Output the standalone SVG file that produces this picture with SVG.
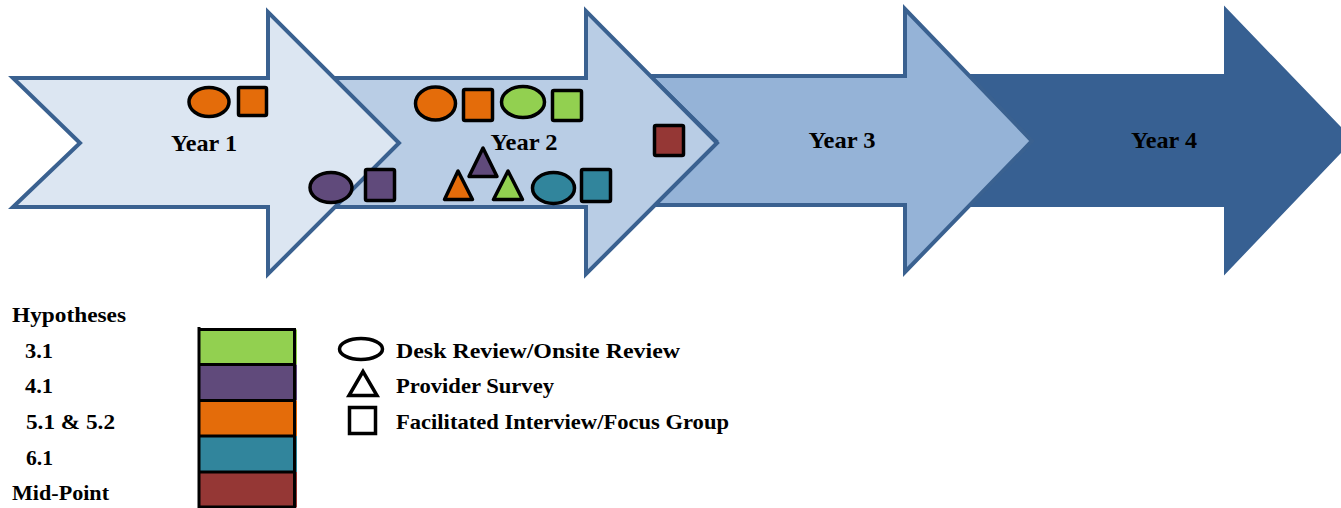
<svg xmlns="http://www.w3.org/2000/svg" width="1341" height="508" viewBox="0 0 1341 508">
<style>
.arrow{stroke:#3A6190;stroke-width:4;stroke-linejoin:miter}
.yr{font-family:"Liberation Serif","Times New Roman",serif;font-weight:bold;font-size:23px;fill:#000;text-anchor:middle}
.lg{font-family:"Liberation Serif","Times New Roman",serif;font-weight:bold;font-size:21px;fill:#000}
.mk{stroke:#000;stroke-width:3.5;stroke-linejoin:round}
.lk{fill:#fff;stroke:#000;stroke-width:3.5;stroke-linejoin:miter}
.sep{stroke:#000;stroke-width:3}
</style>
<g id="year4">
<polygon points="960,75 1225,75 1225,8 1352,140 1225,273 1225,206 960,206 1020,140" fill="#376092" stroke="#376092" stroke-width="2"/>
<text class="yr" x="1164" y="148" textLength="66" lengthAdjust="spacingAndGlyphs">Year 4</text>
</g>
<g id="year3">
<polygon class="arrow" points="650,76 905,76 905,9 1032,141 905,272 905,205 650,205 716,141" fill="#95B3D7"/>
<text class="yr" x="842" y="148" textLength="67" lengthAdjust="spacingAndGlyphs">Year 3</text>
</g>
<g id="year2">
<polygon class="arrow" points="330,78 586,78 586,11 717,143 586,274 586,207 330,207 396,143" fill="#B9CDE5"/>
<text class="yr" x="524" y="150" textLength="67" lengthAdjust="spacingAndGlyphs">Year 2</text>
</g>
<g id="year1">
<polygon class="arrow" points="13,78 268,78 268,12 399,143 268,274 268,207 13,207 80,143" fill="#DCE6F2"/>
<text class="yr" x="204" y="151" textLength="66" lengthAdjust="spacingAndGlyphs">Year 1</text>
</g>
<g id="markers">
<ellipse class="mk" cx="209" cy="102" rx="20" ry="14.5" fill="#E46C0A"/>
<rect class="mk" x="238.5" y="87.5" width="28" height="28" rx="1.5" fill="#E46C0A"/>
<ellipse class="mk" cx="331" cy="187.5" rx="21" ry="15" fill="#604A7B"/>
<rect class="mk" x="365.5" y="169.5" width="29" height="31" rx="1.5" fill="#604A7B"/>
<ellipse class="mk" cx="435.5" cy="103.5" rx="20" ry="16.5" fill="#E46C0A"/>
<rect class="mk" x="463.5" y="89.5" width="29" height="31" rx="1.5" fill="#E46C0A"/>
<ellipse class="mk" cx="523" cy="102" rx="21.5" ry="15.5" fill="#92D050"/>
<rect class="mk" x="552.5" y="90.5" width="29" height="30" rx="1.5" fill="#92D050"/>
<rect class="mk" x="654.5" y="125.5" width="29" height="30" rx="1.5" fill="#953735"/>
<polygon class="mk" points="483,148 469,176.5 497,176.5" fill="#604A7B"/>
<polygon class="mk" points="458,171 444.5,199.5 472.5,199.5" fill="#E46C0A"/>
<polygon class="mk" points="508,171 493.5,199.5 522.5,199.5" fill="#92D050"/>
<ellipse class="mk" cx="553.5" cy="188" rx="21" ry="15.5" fill="#31859C"/>
<rect class="mk" x="581.5" y="169.5" width="29" height="32" rx="1.5" fill="#31859C"/>
</g>
<g id="legend-hypotheses">
<text class="lg" x="12" y="322" textLength="114" lengthAdjust="spacingAndGlyphs">Hypotheses</text>
<text class="lg" x="25" y="357.5" textLength="28" lengthAdjust="spacingAndGlyphs">3.1</text>
<text class="lg" x="25" y="393" textLength="28" lengthAdjust="spacingAndGlyphs">4.1</text>
<text class="lg" x="26" y="429" textLength="89" lengthAdjust="spacingAndGlyphs">5.1 &amp; 5.2</text>
<text class="lg" x="26" y="464.5" textLength="27" lengthAdjust="spacingAndGlyphs">6.1</text>
<text class="lg" x="12" y="500" textLength="97" lengthAdjust="spacingAndGlyphs">Mid-Point</text>
<rect x="199" y="329.5" width="98" height="35" fill="#92D050"/>
<rect x="199" y="364.5" width="98" height="36" fill="#604A7B"/>
<rect x="199" y="400.5" width="98" height="35.5" fill="#E46C0A"/>
<rect x="199" y="436" width="98" height="36" fill="#31859C"/>
<rect x="199" y="472" width="98" height="35.5" fill="#953735"/>
<line class="sep" x1="199" y1="327" x2="199" y2="508"/>
<line class="sep" x1="294.5" y1="329.5" x2="294.5" y2="508"/>
<line class="sep" x1="199" y1="329.5" x2="296" y2="329.5"/>
<line class="sep" x1="199" y1="364.5" x2="296" y2="364.5"/>
<line class="sep" x1="199" y1="400.5" x2="296" y2="400.5"/>
<line class="sep" x1="199" y1="436" x2="296" y2="436"/>
<line class="sep" x1="199" y1="472" x2="296" y2="472"/>
<line class="sep" x1="199" y1="507" x2="296" y2="507"/>
</g>
<g id="legend-methods">
<ellipse class="lk" cx="361" cy="349" rx="21.5" ry="10.5"/>
<polygon class="lk" points="363,371.5 349,395.5 377,395.5"/>
<rect class="lk" x="349.5" y="407.5" width="26" height="26"/>
<text class="lg" x="396" y="358" textLength="284" lengthAdjust="spacingAndGlyphs">Desk Review/Onsite Review</text>
<text class="lg" x="396" y="393" textLength="158" lengthAdjust="spacingAndGlyphs">Provider Survey</text>
<text class="lg" x="396" y="429" textLength="333" lengthAdjust="spacingAndGlyphs">Facilitated Interview/Focus Group</text>
</g>
</svg>
